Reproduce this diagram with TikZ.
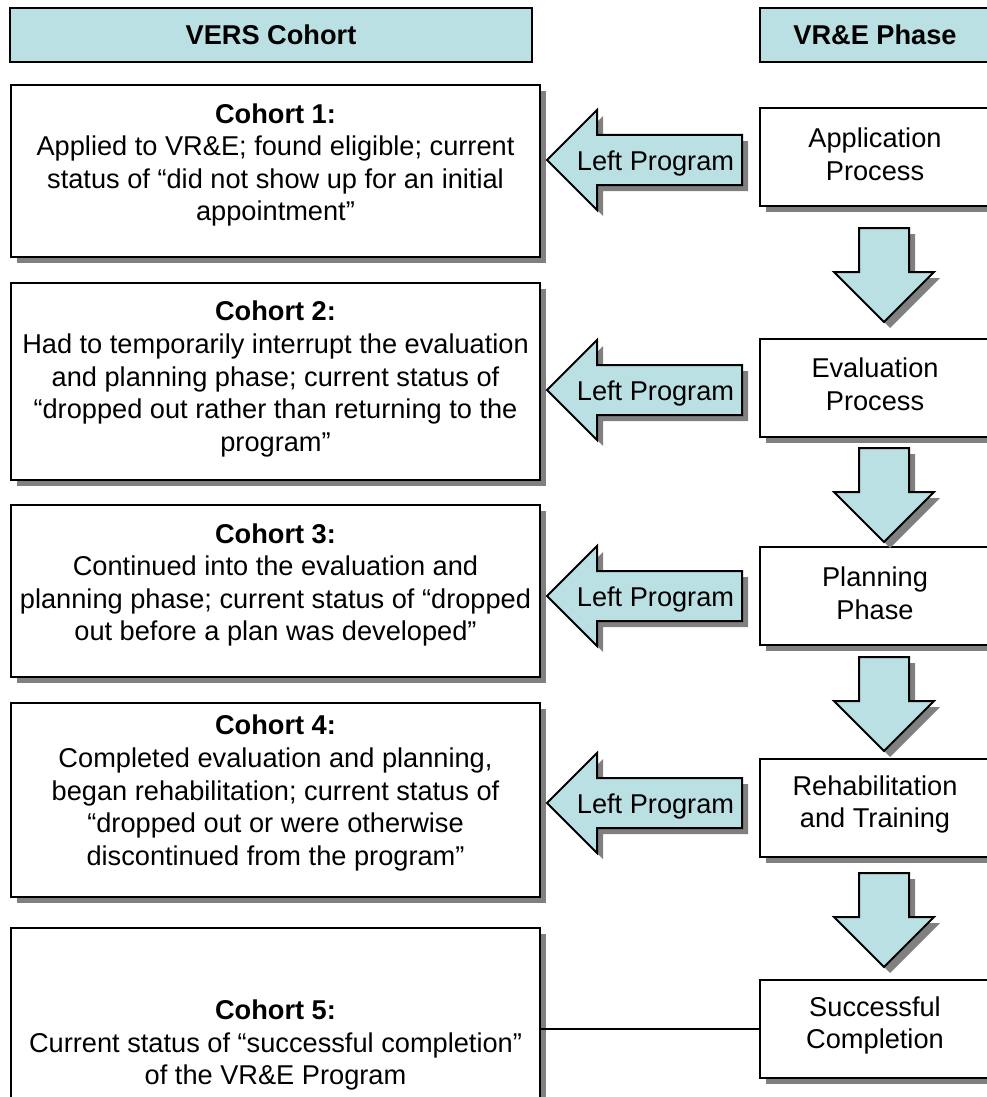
\documentclass[tikz,border=0pt]{standalone}
\usepackage{fontspec}
\setmainfont{Liberation Sans}
\usetikzlibrary{shadows}
\definecolor{ablue}{RGB}{187,224,227}
\definecolor{shgray}{RGB}{128,128,128}
\begin{document}
\begin{tikzpicture}[x=1pt,y=-1pt,
  shd/.style={drop shadow={shadow xshift=6pt,shadow yshift=-6pt,fill=shgray,opacity=1}},
  txt/.style={font=\fontsize{27.2}{32.6}\selectfont},
  hdr/.style={draw,line width=2pt,fill=ablue,inner sep=0pt,minimum height=54pt,font=\bfseries\fontsize{27.2}{32.6}\selectfont},
  cbox/.style={draw,line width=2pt,fill=white,shd,minimum width=529pt,inner sep=0pt},
  ctext/.style={txt,align=center,inner sep=0pt},
  pbox/.style={draw,line width=2pt,fill=white,shd,minimum width=230pt,minimum height=98pt,inner sep=0pt},
  arr/.style={draw,line width=2pt,fill=ablue,line join=miter,shd},
  conn/.style={line width=2pt}]
\useasboundingbox (0,0) rectangle (987,1097);

% headers
\node[hdr,minimum width=522pt] (h1) at (271,35) {VERS Cohort};
\node[hdr,minimum width=230pt] (h2) at (875,35) {VR\&E Phase};

% cohort boxes
\node[cbox,minimum height=172pt] (c1) at (275.5,171) {};
\node[cbox,minimum height=197pt] (c2) at (275.5,381.5) {};
\node[cbox,minimum height=172pt] (c3) at (275.5,591) {};
\node[cbox,minimum height=194pt] (c4) at (275.5,800) {};
\node[cbox,minimum height=197pt] (c5) at (275.5,1026.5) {};

\node[ctext] (t1) at (275.5,165) {\textbf{Cohort 1:}\\Applied to VR\&E; found eligible; current\\status of “did not show up for an initial\\appointment”};
\node[ctext] (t2) at (275.5,379) {\textbf{Cohort 2:}\\Had to temporarily interrupt the evaluation\\and planning phase; current status of\\“dropped out rather than returning to the\\program”};
\node[ctext] (t3) at (275.5,585) {\textbf{Cohort 3:}\\Continued into the evaluation and\\planning phase; current status of “dropped\\out before a plan was developed”};
\node[ctext] (t4) at (275.5,793) {\textbf{Cohort 4:}\\Completed evaluation and planning,\\began rehabilitation; current status of\\“dropped out or were otherwise\\discontinued from the program”};
\node[ctext] (t5) at (275.5,1045) {\textbf{Cohort 5:}\\Current status of “successful completion”\\of the VR\&E Program};

% phase boxes
\node[pbox] (p1) at (875,157) {};
\node[pbox] (p2) at (875,387.5) {};
\node[pbox] (p3) at (875,596) {};
\node[pbox] (p4) at (875,807.5) {};
\node[pbox] (p5) at (875,1028.5) {};
\node[ctext] (q1) at (875,154) {Application\\Process};
\node[ctext] (q2) at (875,384.5) {Evaluation\\Process};
\node[ctext] (q3) at (875,593) {Planning\\Phase};
\node[ctext] (q4) at (875,804.5) {Rehabilitation\\and Training};
\node[ctext] (q5) at (875,1025.5) {Successful\\Completion};

% left arrows
\foreach \cy/\nm in {160/l1,390/l2,596/l3,803/l4}{
  \draw[arr] (547,\cy) -- (597,\cy-50) -- (597,\cy-25) -- (742,\cy-25)
     -- (742,\cy+25) -- (597,\cy+25) -- (597,\cy+50) -- cycle;
  \node[txt,inner sep=0pt] (\nm) at (655.5,\cy+3) {Left Program};
}

% down arrows
\foreach \ty in {228,448,657,873}{
  \draw[arr] (859,\ty) -- (909,\ty) -- (909,\ty+44) -- (934,\ty+44)
     -- (884,\ty+94) -- (834,\ty+44) -- (859,\ty+44) -- cycle;
}

% connector
\draw[conn] (p5.west -| c5.east) -- (p5.west);
\end{tikzpicture}
\end{document}
